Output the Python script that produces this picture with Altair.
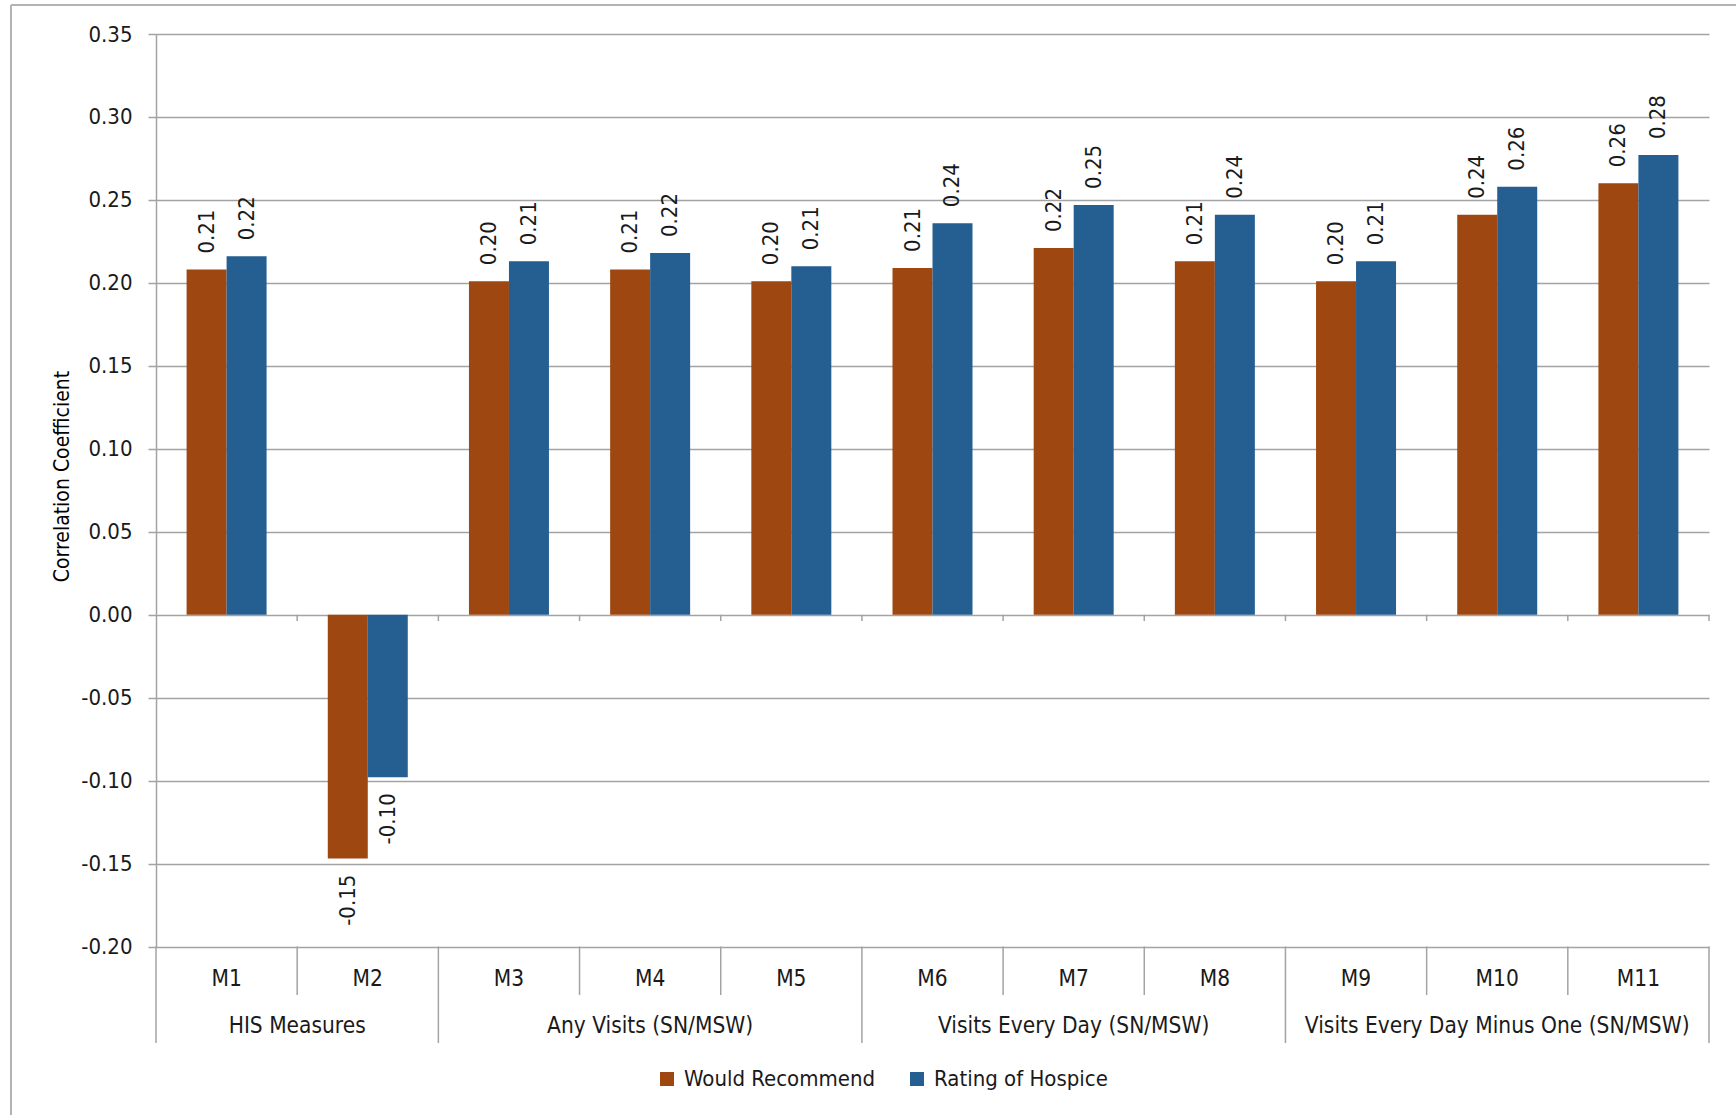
import altair as alt
import pandas as pd

# ---------------- data ----------------
measures = ["M1", "M2", "M3", "M4", "M5", "M6", "M7", "M8", "M9", "M10", "M11"]
would_recommend = [0.208, -0.147, 0.201, 0.208, 0.201, 0.209, 0.221, 0.213, 0.201, 0.241, 0.260]
rating_of_hospice = [0.216, -0.098, 0.213, 0.218, 0.210, 0.236, 0.247, 0.241, 0.213, 0.258, 0.277]
series_names = ["Would Recommend", "Rating of Hospice"]
series_colors = ["#9E4710", "#255E91"]
groups = ["HIS Measures", "Any Visits (SN/MSW)", "Visits Every Day (SN/MSW)",
          "Visits Every Day Minus One (SN/MSW)"]
group_sizes = [2, 3, 3, 3]
y_ticks = [-0.20, -0.15, -0.10, -0.05, 0.00, 0.05, 0.10, 0.15, 0.20, 0.25, 0.30, 0.35]

# ---------------- tables ----------------
rows = []
for s, vals in zip(series_names, [would_recommend, rating_of_hospice]):
    for m, v in zip(measures, vals):
        rows.append({"measure": m, "series": s, "value": v, "label": f"{v:.2f}"})
df = pd.DataFrame(rows)
mdf = pd.DataFrame({"measure": measures})

group_bounds = [0]
for g in group_sizes:
    group_bounds.append(group_bounds[-1] + g)
gdf = pd.DataFrame({"group": groups,
                    "center": [(group_bounds[i] + group_bounds[i + 1]) / 2 for i in range(len(groups))]})
long_sep = pd.DataFrame({"pos": group_bounds})
short_sep = pd.DataFrame({"pos": [i for i in range(1, len(measures)) if i not in group_bounds]})
zero_ticks = pd.DataFrame({"pos": list(range(1, len(measures) + 1))})

# ---------------- style ----------------
FONT = "Liberation Sans Narrow, Arial Narrow, DejaVu Sans Condensed, sans-serif"
TXT = "#1a1a1a"
GRID = "#a3a3a3"
W, H = 1553, 912.5
CAT_FS = 22.5

xband = alt.X("measure:N", sort=measures,
              scale=alt.Scale(domain=measures, paddingInner=0, paddingOuter=0), axis=None)
xoff = alt.XOffset("series:N", sort=series_names,
                   scale=alt.Scale(domain=series_names, paddingInner=0, paddingOuter=0.765))
yscale = alt.Scale(domain=[-0.2, 0.35], nice=False)
xq = alt.Scale(domain=[0, len(measures)], nice=False, zero=False)

bars = alt.Chart(df).mark_bar().encode(
    x=xband,
    xOffset=xoff,
    y=alt.Y("value:Q", scale=yscale, title="Correlation Coefficient",
            axis=alt.Axis(values=y_ticks,
                          labelExpr="datum.value < 0 ? '-' + format(-datum.value, '.2f') : format(datum.value, '.2f')",
                          labelFontSize=22, labelPadding=16, labelColor=TXT, labelFont=FONT,
                          tickSize=8, tickColor=GRID, tickWidth=1.5,
                          domainColor=GRID, domainWidth=1.5,
                          gridColor=GRID, gridWidth=1.5,
                          titleFont=FONT, titleFontSize=21, titleFontWeight="normal", titleColor="#000000",
                          titleAngle=270, titleAlign="center", titleBaseline="middle",
                          titleX=-94, titleY=442)),
    color=alt.Color("series:N", sort=series_names,
                    scale=alt.Scale(domain=series_names, range=series_colors),
                    legend=alt.Legend(orient="none", legendX=500, legendY=1034, direction="horizontal",
                                      title=None, symbolType="square", symbolSize=196,
                                      symbolStrokeWidth=0, labelFontSize=22, labelFont=FONT,
                                      labelColor=TXT, labelOffset=6, columnPadding=30, padding=0,
                                      labelLimit=0)),
)

pos_labels = alt.Chart(df).transform_filter("datum.value >= 0").mark_text(
    angle=270, align="left", baseline="middle", dx=16, fontSize=22, font=FONT, color=TXT
).encode(x=xband, xOffset=xoff, y=alt.Y("value:Q", scale=yscale), text="label:N")

neg_labels = alt.Chart(df).transform_filter("datum.value < 0").mark_text(
    angle=270, align="right", baseline="middle", dx=-16, fontSize=22, font=FONT, color=TXT
).encode(x=xband, xOffset=xoff, y=alt.Y("value:Q", scale=yscale), text="label:N")

m_labels = alt.Chart(mdf).mark_text(
    fontSize=CAT_FS, font=FONT, color=TXT, baseline="middle", align="center"
).encode(x=xband, y=alt.value(945), text="measure:N")

g_labels = alt.Chart(gdf).mark_text(
    fontSize=CAT_FS, font=FONT, color=TXT, baseline="middle", align="center"
).encode(x=alt.X("center:Q", scale=xq, axis=None), y=alt.value(992), text="group:N")

long_rules = alt.Chart(long_sep).mark_rule(color=GRID, strokeWidth=1.5).encode(
    x=alt.X("pos:Q", scale=xq, axis=None), y=alt.value(H), y2=alt.value(1009))

short_rules = alt.Chart(short_sep).mark_rule(color=GRID, strokeWidth=1.5).encode(
    x=alt.X("pos:Q", scale=xq, axis=None), y=alt.value(H), y2=alt.value(961))

zero_rules = alt.Chart(zero_ticks).mark_rule(color=GRID, strokeWidth=1.5).encode(
    x=alt.X("pos:Q", scale=xq, axis=None), y=alt.datum(0, scale=yscale), y2=alt.value(587))

frame_v = alt.Chart(mdf).mark_rule(color="#b3b3b3", strokeWidth=2).encode(
    x=alt.value(-145), y=alt.value(-29), y2=alt.value(1100))
frame_h = alt.Chart(mdf).mark_rule(color="#b3b3b3", strokeWidth=2).encode(
    x=alt.value(-145), x2=alt.value(1600), y=alt.value(-29))

chart = alt.layer(
    frame_v, frame_h, bars, zero_rules, long_rules, short_rules,
    pos_labels, neg_labels, m_labels, g_labels
).resolve_scale(x="independent").properties(
    width=W, height=H,
    autosize=alt.AutoSizeParams(type="none"),
    padding={"left": 156, "top": 34, "right": 27, "bottom": 168.5},
    background="white",
).configure_view(stroke=None)

chart.save("out.html", embed_options={"renderer": "svg", "actions": False})
